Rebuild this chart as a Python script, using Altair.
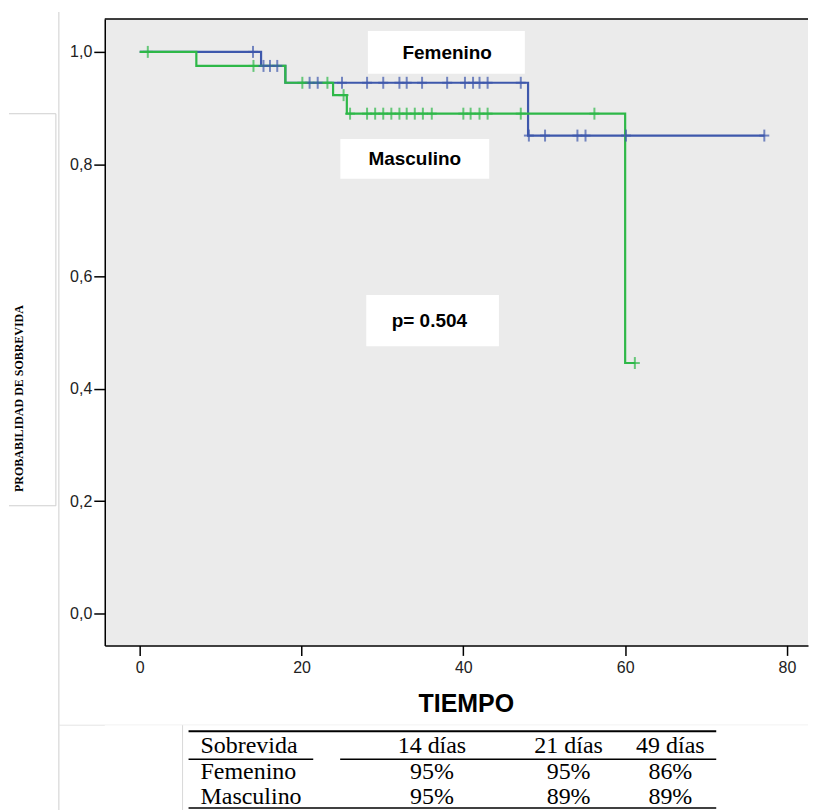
import altair as alt
import pandas as pd

# ---------------- data ----------------
groups = ["Femenino", "Masculino"]
colors = ["#3E58AC", "#2EB848"]

# Kaplan-Meier step points (time, survival from that time on)
fem_step_t = [0, 15, 18, 48, 77.2]
fem_step_s = [1.0, 0.975, 0.945, 0.851, 0.851]
masc_step_t = [0, 7, 18, 23.9, 25.6, 60, 61.2]
masc_step_s = [1.0, 0.975, 0.945, 0.923, 0.89, 0.446, 0.446]

# censored observations
fem_cens_t = [14, 15.3, 16.1, 17, 21, 22, 25, 28.1, 30.1, 32.1, 33, 34.9, 38,
              40.2, 41.2, 42, 43, 47.1, 48.1, 50.1, 54.1, 55.1, 60.1, 77.2]
fem_cens_s = [1.0, 0.975, 0.975, 0.975, 0.945, 0.945, 0.945, 0.945, 0.945,
              0.945, 0.945, 0.945, 0.945, 0.945, 0.945, 0.945, 0.945, 0.945,
              0.851, 0.851, 0.851, 0.851, 0.851, 0.851]
masc_cens_t = [1, 14.06, 20.1, 23.2, 25.2, 26, 28.1, 29.1, 30.1, 31.1, 32.1,
               33, 34, 35, 36.1, 40, 40.9, 42, 43, 47.1, 56.2, 61.2]
masc_cens_s = [1.0, 0.975, 0.945, 0.945, 0.923, 0.89, 0.89, 0.89, 0.89, 0.89,
               0.89, 0.89, 0.89, 0.89, 0.89, 0.89, 0.89, 0.89, 0.89, 0.89,
               0.89, 0.446]

# annotations (text, centre in data units, white box in data units)
ann_text = ["Femenino", "Masculino", "p= 0.504"]
ann_x = [38.0, 34.0, 35.8]
ann_y = [0.998, 0.810, 0.520]
box_x1 = [28.2, 24.8, 28.0]
box_x2 = [47.6, 43.2, 44.4]
box_y1 = [1.037, 0.845, 0.567]
box_y2 = [0.961, 0.774, 0.476]

x_ticks = [0, 20, 40, 60, 80]
y_ticks = [0.0, 0.2, 0.4, 0.6, 0.8, 1.0]

# table below the plot
table_header = ["Sobrevida", "14 días", "21 días", "49 días"]
fem_row = ["Femenino", "95%", "95%", "86%"]
masc_row = ["Masculino", "95%", "89%", "89%"]

# ---------------- frames ----------------
steps = pd.DataFrame(
    [{"t": t, "s": s, "grupo": "Femenino", "i": i} for i, (t, s) in enumerate(zip(fem_step_t, fem_step_s))]
    + [{"t": t, "s": s, "grupo": "Masculino", "i": i} for i, (t, s) in enumerate(zip(masc_step_t, masc_step_s))]
)
cens = pd.DataFrame(
    [{"t": t, "s": s, "grupo": "Femenino"} for t, s in zip(fem_cens_t, fem_cens_s)]
    + [{"t": t, "s": s, "grupo": "Masculino"} for t, s in zip(masc_cens_t, masc_cens_s)]
)
ann = pd.DataFrame({"text": ann_text, "x": ann_x, "y": ann_y,
                    "x1": box_x1, "x2": box_x2, "y1": box_y1, "y2": box_y2})

W = 705
H = 628
xscale = alt.Scale(domain=[-4.32, 82.6], nice=False, zero=False)
yscale = alt.Scale(domain=[-0.0568, 1.0586], nice=False, zero=False)
cscale = alt.Scale(domain=groups, range=colors)

xaxis = alt.Axis(values=x_ticks, format="d", grid=False,
                 domainColor="black", domainWidth=1.5,
                 tickColor="black", tickWidth=1.5, tickSize=10,
                 labelFont="Liberation Sans", labelFontSize=16, labelColor="#222222",
                 labelPadding=4,
                 title="TIEMPO", titleFont="Liberation Sans", titleFontSize=25,
                 titleFontWeight="bold", titleColor="black",
                 titleX=362, titleY=58, titleBaseline="middle")
yaxis = alt.Axis(values=y_ticks, grid=False,
                 labelExpr="replace(format(datum.value, '.1f'), '.', ',')",
                 domainColor="black", domainWidth=1.5,
                 tickColor="black", tickWidth=1.5, tickSize=11,
                 labelFont="Liberation Sans", labelFontSize=16, labelColor="#222222",
                 labelPadding=2,
                 title="PROBABILIDAD DE SOBREVIDA", titleFont="Liberation Serif",
                 titleFontSize=12, titleFontWeight="bold", titleColor="black",
                 titleX=-86, titleY=380, titleAngle=270,
                 titleAlign="center", titleBaseline="middle")

X = alt.X("t:Q", scale=xscale, axis=xaxis)
Y = alt.Y("s:Q", scale=yscale, axis=yaxis)
C = alt.Color("grupo:N", scale=cscale, legend=None)

boxes = alt.Chart(ann).mark_rect(fill="white").encode(
    x=alt.X("x1:Q", scale=xscale, axis=xaxis), x2="x2:Q",
    y=alt.Y("y1:Q", scale=yscale, axis=yaxis), y2="y2:Q")

def km_line(g):
    return alt.Chart(steps).transform_filter(alt.datum.grupo == g).mark_line(
        interpolate="step-after", strokeWidth=2.2).encode(x=X, y=Y, color=C, order="i:Q")

def km_cens(g):
    base = alt.Chart(cens).transform_filter(alt.datum.grupo == g)
    v = base.mark_tick(orient="vertical", size=12, thickness=2).encode(x=X, y=Y, color=C)
    h = base.mark_tick(orient="horizontal", size=10, thickness=2).encode(x=X, y=Y, color=C)
    return v + h

labels = alt.Chart(ann).mark_text(font="Liberation Sans", fontSize=19,
                                  fontWeight="bold", color="black").encode(
    x=alt.X("x:Q", scale=xscale, axis=xaxis),
    y=alt.Y("y:Q", scale=yscale, axis=yaxis), text="text:N")

one = pd.DataFrame({"a": [0]})
top_border = alt.Chart(one).mark_rule(color="black", strokeWidth=1.5).encode(
    x=alt.value(0), x2=alt.value(W), y=alt.value(0))

gray = "#cfcfcf"
deco = (
    alt.Chart(one).mark_rule(color=gray, strokeWidth=1).encode(
        x=alt.value(-46), y=alt.value(-7), y2=alt.value(793))
    + alt.Chart(one).mark_rule(color=gray, strokeWidth=1).encode(
        x=alt.value(-49), y=alt.value(95), y2=alt.value(488))
    + alt.Chart(one).mark_rule(color=gray, strokeWidth=1).encode(
        x=alt.value(-96), x2=alt.value(-49), y=alt.value(95))
    + alt.Chart(one).mark_rule(color=gray, strokeWidth=1).encode(
        x=alt.value(-96), x2=alt.value(-49), y=alt.value(488))
    + alt.Chart(one).mark_rule(color="#e4e4e4", strokeWidth=1).encode(
        x=alt.value(-46), x2=alt.value(W), y=alt.value(708))
)

main = alt.layer(
    boxes,
    km_line("Femenino"), km_line("Masculino"),
    km_cens("Femenino"), km_cens("Masculino"),
    labels, top_border, deco,
).properties(width=W, height=H,
             view=alt.ViewBackground(fill="#ebebeb", strokeWidth=0))

# ---------------- table ----------------
row_keys = ["h", "f", "m"]
tab = pd.DataFrame(
    [{"row": "h", "col": c, "label": v} for c, v in enumerate(table_header)]
    + [{"row": "f", "col": c, "label": v} for c, v in enumerate(fem_row)]
    + [{"row": "m", "col": c, "label": v} for c, v in enumerate(masc_row)]
)
col_x = [96, 328, 465, 567]
TY = alt.Y("row:N", axis=None,
           scale=alt.Scale(type="point", domain=row_keys, range=[21, 72], padding=0))

tlayers = []
for c, cx in enumerate(col_x):
    tlayers.append(
        alt.Chart(tab).transform_filter(alt.datum.col == c).mark_text(
            font="Liberation Serif", fontSize=24, color="black",
            align="left" if c == 0 else "center", baseline="middle").encode(
            x=alt.value(cx), y=TY, text="label:N"))

def trule(x1, x2, y, w):
    return alt.Chart(one).mark_rule(color="black", strokeWidth=w).encode(
        x=alt.value(x1), x2=alt.value(x2), y=alt.value(y))

trules = [trule(84, 613, 6, 2), trule(84, 209, 34, 1.5), trule(236, 613, 34, 1.5),
          trule(84, 613, 83, 1.5),
          alt.Chart(one).mark_rule(color="#d8d8d8", strokeWidth=1).encode(
              x=alt.value(78), y=alt.value(0), y2=alt.value(85))]

table = alt.layer(*tlayers, *trules).properties(
    width=W, height=85, view=alt.ViewBackground(fill="white", strokeWidth=0))

chart = alt.vconcat(main, table, spacing=80, bounds="flush").properties(
    padding={"left": 0, "top": 2, "right": 0, "bottom": 0}
).configure_view(strokeWidth=0)

chart.save("out.html", embed_options={"renderer": "svg", "actions": False})
